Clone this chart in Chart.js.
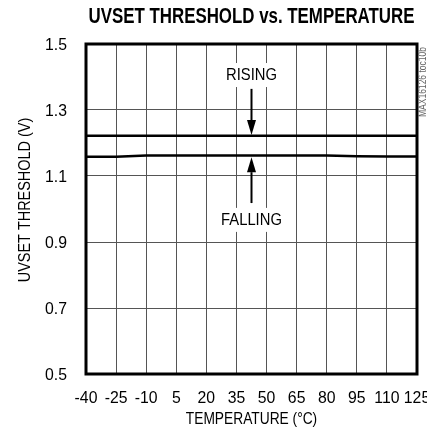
<!DOCTYPE html>
<html><head><meta charset="utf-8">
<script src="https://cdn.jsdelivr.net/npm/chart.js@4"></script>
<style>html,body{margin:0;padding:0;background:#fff;}canvas{display:block}</style>
</head><body>
<canvas id="c" width="427" height="439"></canvas>
<script>
const temperatures = [-40,-25,-10,5,20,35,50,65,80,95,110,125];
const risingThreshold = [1.222,1.222,1.222,1.222,1.222,1.222,1.222,1.222,1.222,1.222,1.222,1.222];
const fallingThreshold = [1.158,1.158,1.162,1.162,1.162,1.162,1.162,1.162,1.162,1.160,1.159,1.159];
const xTickValues = [-40,-25,-10,5,20,35,50,65,80,95,110,125];
const yTickValues = [0.5,0.7,0.9,1.1,1.3,1.5];
const titleText = 'UVSET THRESHOLD vs. TEMPERATURE';
const xTitle = 'TEMPERATURE (°C)';
const yTitle = 'UVSET THRESHOLD (V)';
const watermark = 'MAX16126 toc10b';
const noteLabels = [{text:'RISING', x:42.5, y:1.406},{text:'FALLING', x:42.5, y:0.967}];
const noteArrows = [{x:42.5, from:1.364, to:1.224},{x:42.5, from:1.018, to:1.157}];

const SANS = "'Liberation Sans',Arimo,Arial,sans-serif";

const pts = arr => temperatures.map((t,i)=>({x:t,y:arr[i]}));

function narrowText(ctx, text, x, y, k, rot){
  ctx.save();
  ctx.translate(x, y);
  if (rot) ctx.rotate(rot);
  ctx.scale(k, 1);
  ctx.fillText(text, 0, 0);
  ctx.restore();
}

const decor = {
  id:'decor',
  afterDraw(chart){
    const ctx = chart.ctx, a = chart.chartArea, xs = chart.scales.x, ys = chart.scales.y;
    ctx.save();
    // notes with white backing
    ctx.font = "17px " + SANS;
    ctx.textAlign = 'center'; ctx.textBaseline = 'middle';
    noteLabels.forEach(l => {
      const px = xs.getPixelForValue(l.x), py = ys.getPixelForValue(l.y);
      const tw = ctx.measureText(l.text).width * 0.87;
      ctx.fillStyle = '#fff';
      ctx.fillRect(px - tw/2 - 3, py - 12, tw + 6, 24);
      ctx.fillStyle = '#000';
      narrowText(ctx, l.text, px, py, 0.87);
    });
    ctx.lineWidth = 2; ctx.strokeStyle = '#000'; ctx.fillStyle = '#000';
    noteArrows.forEach(ar => {
      const x = xs.getPixelForValue(ar.x), y0 = ys.getPixelForValue(ar.from), y1 = ys.getPixelForValue(ar.to);
      const dir = Math.sign(y1 - y0), hl = 15, hw = 4.5;
      ctx.beginPath(); ctx.moveTo(x, y0); ctx.lineTo(x, y1 - dir*hl); ctx.stroke();
      ctx.beginPath(); ctx.moveTo(x, y1); ctx.lineTo(x-hw, y1-dir*hl); ctx.lineTo(x+hw, y1-dir*hl); ctx.closePath(); ctx.fill();
    });
    // frame
    ctx.strokeStyle = '#000'; ctx.lineWidth = 3;
    ctx.strokeRect(a.left, a.top, a.right-a.left, a.bottom-a.top);
    ctx.fillStyle = '#000';
    // title
    ctx.font = "bold 22px " + SANS;
    const w = ctx.measureText(titleText).width;
    narrowText(ctx, titleText, (a.left+a.right)/2, 17, 326 / w);
    // tick labels
    ctx.font = "17px " + SANS;
    xTickValues.forEach(v => narrowText(ctx, String(v), xs.getPixelForValue(v), a.bottom + 24, 0.93));
    ctx.textAlign = 'right';
    yTickValues.forEach(v => narrowText(ctx, v.toFixed(1), a.left - 19, ys.getPixelForValue(v) + 1, 0.93));
    // axis titles
    ctx.textAlign = 'center';
    ctx.font = "16px " + SANS;
    narrowText(ctx, xTitle, (a.left+a.right)/2, a.bottom + 46, 0.86);
    ctx.font = "17px " + SANS;
    narrowText(ctx, yTitle, 25, (a.top+a.bottom)/2 - 9, 0.85, -Math.PI/2);
    // watermark
    ctx.fillStyle = '#666';
    ctx.font = "10px " + SANS;
    narrowText(ctx, watermark, 423, 82, 0.85, -Math.PI/2);
    ctx.restore();
  }
};

new Chart(document.getElementById('c'), {
  type:'line',
  data:{datasets:[
    {label:'RISING', data:pts(risingThreshold), borderColor:'#000', borderWidth:2.5, pointRadius:0, tension:0},
    {label:'FALLING', data:pts(fallingThreshold), borderColor:'#000', borderWidth:2.5, pointRadius:0, tension:0}
  ]},
  options:{
    responsive:false, animation:false,
    layout:{padding:{top:44,right:10,left:0,bottom:0}},
    plugins:{legend:{display:false}, tooltip:{enabled:false}},
    scales:{
      x:{type:'linear', min:-40, max:125,
        afterBuildTicks:s=>{s.ticks = xTickValues.map(v=>({value:v}));},
        afterFit:s=>{s.height = 65; s.paddingLeft = 0; s.paddingRight = 0;},
        grid:{color:'#555', lineWidth:1, drawTicks:false},
        border:{display:false},
        ticks:{display:false}
      },
      y:{type:'linear', min:0.5, max:1.5,
        afterBuildTicks:s=>{s.ticks = yTickValues.map(v=>({value:v}));},
        afterFit:s=>{s.width = 86; s.paddingTop = 0; s.paddingBottom = 0;},
        grid:{color:'#555', lineWidth:1, drawTicks:false},
        border:{display:false},
        ticks:{display:false}
      }
    }
  },
  plugins:[decor]
});
</script>
</body></html>
